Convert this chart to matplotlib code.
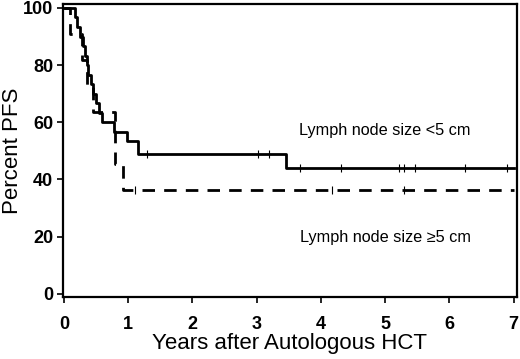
import matplotlib
matplotlib.use("Agg")
import matplotlib.pyplot as plt

plt.rcParams['font.family'] = ['Liberation Sans', 'DejaVu Sans']

# Lymph node size <5 cm (step times in years, survival in percent)
small_t = [0, 0.17, 0.20, 0.25, 0.30, 0.33, 0.36, 0.38, 0.42, 0.45, 0.50, 0.55, 0.60, 0.78, 0.98, 1.15, 3.45, 7.0]
small_s = [100, 96.7, 93.3, 90.0, 86.7, 83.3, 80.0, 76.7, 73.3, 70.0, 66.7, 63.3, 60.0, 56.7, 53.3, 49.0, 44.1, 44.1]
small_cens_t = [1.30, 3.02, 3.20, 3.67, 4.32, 5.21, 5.30, 5.47, 6.25, 6.90]
small_cens_s = [49.0, 49.0, 49.0, 44.1, 44.1, 44.1, 44.1, 44.1, 44.1, 44.1]

# Lymph node size >=5 cm
large_t = [0, 0.10, 0.28, 0.36, 0.45, 0.80, 0.92, 7.0]
large_s = [100, 90.9, 81.8, 72.7, 63.6, 45.5, 36.4, 36.4]
large_cens_t = [1.10, 4.17, 5.30]
large_cens_s = [36.4, 36.4, 36.4]

fig = plt.figure(figsize=(5.2, 3.59), dpi=100)
ax = fig.add_axes([0.121, 0.173, 0.873, 0.816])

ax.step(small_t, small_s, where='post', color='black', lw=2.0)
ax.plot(small_cens_t, small_cens_s, ls='none', marker='|', ms=6, mew=0.8, color='black')
ax.step(large_t, large_s, where='post', color='black', lw=2.0, dashes=(4.5, 3.3))
ax.plot(large_cens_t, large_cens_s, ls='none', marker='|', ms=6, mew=0.8, color='black')

ax.text(5.0, 57, 'Lymph node size <5 cm', fontsize=11.7, ha='center', va='center')
ax.text(5.0, 19.6, 'Lymph node size \u22655 cm', fontsize=11.7, ha='center', va='center')

ax.set_xlim(-0.015, 7.05)
ax.set_ylim(-1.1, 101.4)
ax.set_xticks(range(0, 8))
ax.set_yticks(range(0, 101, 20))
for lab in ax.get_xticklabels() + ax.get_yticklabels():
    lab.set_fontweight('bold')
    lab.set_fontsize(13)
ax.tick_params(direction='out', length=4, width=1.2)
ax.tick_params(axis='x', pad=10)
ax.tick_params(axis='y', pad=3)
for sp in ax.spines.values():
    sp.set_linewidth(1.6)

ax.set_xlabel('Years after Autologous HCT', fontsize=16, labelpad=0)
ax.set_ylabel('Percent PFS', fontsize=16, va='center')
ax.yaxis.set_label_coords(-0.112, 0.5)

plt.savefig('out.png', dpi=100)
